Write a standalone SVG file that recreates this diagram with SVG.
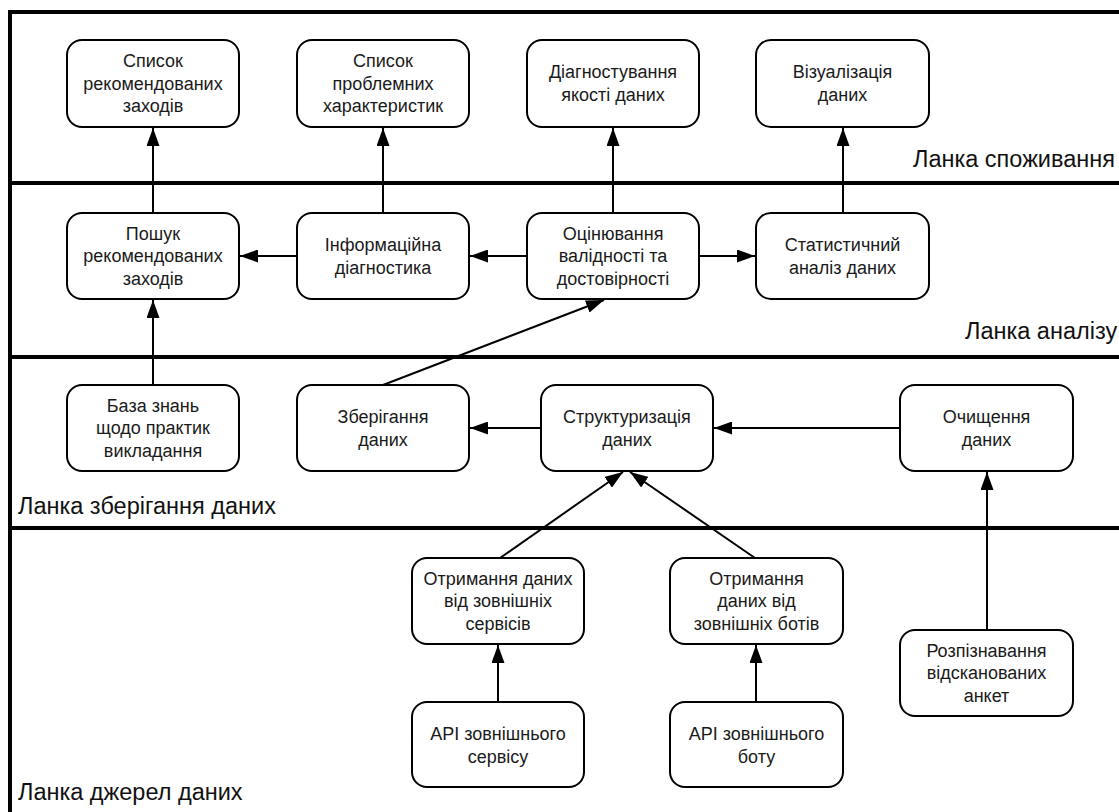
<svg xmlns="http://www.w3.org/2000/svg" width="1119" height="812" viewBox="0 0 1119 812">
<style>
.lane{fill:none;stroke:#000;stroke-width:4}
.box{fill:#fff;stroke:#000;stroke-width:2}
.t{font-family:"Liberation Sans",Arial,sans-serif;font-size:18px;fill:#1a1a1a;text-anchor:middle}
.lbl{font-family:"Liberation Sans",Arial,sans-serif;font-size:23.5px;fill:#111}
.c{fill:none;stroke:#000;stroke-width:2;marker-end:url(#ah)}
</style>
<defs>
<marker id="ah" markerUnits="userSpaceOnUse" markerWidth="18" markerHeight="13" refX="18" refY="6.5" orient="auto">
<path d="M0,0 L18,6.5 L0,13 z" fill="#000"/>
</marker>
</defs>
<rect width="1119" height="812" fill="#fff"/>
<g id="lanes">
<rect class="lane" x="10" y="12" width="1200" height="900"/>
<line class="lane" x1="10" y1="183" x2="1119" y2="183"/>
<line class="lane" x1="10" y1="357" x2="1119" y2="357"/>
<line class="lane" x1="10" y1="528" x2="1119" y2="528"/>
<text class="lbl" x="913" y="167">Ланка споживання</text>
<text class="lbl" x="965" y="339">Ланка аналізу</text>
<text class="lbl" x="18" y="514">Ланка зберігання даних</text>
<text class="lbl" x="18" y="800">Ланка джерел даних</text>
</g>
<g id="connectors">
<line class="c" x1="153" y1="213" x2="153" y2="128"/>
<line class="c" x1="383" y1="213" x2="383" y2="128"/>
<line class="c" x1="613" y1="213" x2="613" y2="128"/>
<line class="c" x1="843" y1="213" x2="843" y2="128"/>
<line class="c" x1="296" y1="256" x2="240" y2="256"/>
<line class="c" x1="527" y1="256" x2="470" y2="256"/>
<line class="c" x1="699" y1="256" x2="755" y2="256"/>
<line class="c" x1="153" y1="385" x2="153" y2="300"/>
<line class="c" x1="383" y1="385" x2="604" y2="300"/>
<line class="c" x1="541" y1="428" x2="470" y2="428"/>
<line class="c" x1="900" y1="428" x2="714" y2="428"/>
<line class="c" x1="500" y1="558" x2="623" y2="472"/>
<line class="c" x1="755" y1="558" x2="630" y2="472"/>
<line class="c" x1="987" y1="630" x2="987" y2="472"/>
<line class="c" x1="498" y1="702" x2="498" y2="645"/>
<line class="c" x1="756" y1="702" x2="756" y2="645"/>
</g>
<g id="n1"><rect class="box" x="67" y="40" width="172" height="87" rx="15"/><text class="t" x="153" y="67">Список</text><text class="t" x="153" y="90">рекомендованих</text><text class="t" x="153" y="112">заходів</text></g>
<g id="n2"><rect class="box" x="297" y="40" width="172" height="87" rx="15"/><text class="t" x="383" y="67">Список</text><text class="t" x="383" y="90">проблемних</text><text class="t" x="383" y="112">характеристик</text></g>
<g id="n3"><rect class="box" x="527" y="40" width="172" height="87" rx="15"/><text class="t" x="613" y="78">Діагностування</text><text class="t" x="613" y="101">якості даних</text></g>
<g id="n4"><rect class="box" x="756" y="40" width="173" height="87" rx="15"/><text class="t" x="842.5" y="78">Візуалізація</text><text class="t" x="842.5" y="101">даних</text></g>
<g id="n5"><rect class="box" x="67" y="213" width="172" height="86" rx="15"/><text class="t" x="153" y="240">Пошук</text><text class="t" x="153" y="262">рекомендованих</text><text class="t" x="153" y="285">заходів</text></g>
<g id="n6"><rect class="box" x="297" y="213" width="172" height="86" rx="15"/><text class="t" x="383" y="251">Інформаційна</text><text class="t" x="383" y="274">діагностика</text></g>
<g id="n7"><rect class="box" x="527" y="213" width="172" height="86" rx="15"/><text class="t" x="613" y="240">Оцінювання</text><text class="t" x="613" y="262">валідності та</text><text class="t" x="613" y="285">достовірності</text></g>
<g id="n8"><rect class="box" x="756" y="213" width="173" height="86" rx="15"/><text class="t" x="842.5" y="251">Статистичний</text><text class="t" x="842.5" y="274">аналіз даних</text></g>
<g id="n9"><rect class="box" x="67" y="385" width="172" height="86" rx="15"/><text class="t" x="153" y="412">База знань</text><text class="t" x="153" y="434">щодо практик</text><text class="t" x="153" y="457">викладання</text></g>
<g id="n10"><rect class="box" x="297" y="385" width="172" height="86" rx="15"/><text class="t" x="383" y="423">Зберігання</text><text class="t" x="383" y="446">даних</text></g>
<g id="n11"><rect class="box" x="541" y="385" width="172" height="86" rx="15"/><text class="t" x="627" y="423">Структуризація</text><text class="t" x="627" y="446">даних</text></g>
<g id="n12"><rect class="box" x="900" y="385" width="173" height="86" rx="15"/><text class="t" x="986.5" y="423">Очищення</text><text class="t" x="986.5" y="446">даних</text></g>
<g id="n13"><rect class="box" x="412" y="558" width="172" height="86" rx="15"/><text class="t" x="498" y="585">Отримання даних</text><text class="t" x="498" y="607">від зовнішніх</text><text class="t" x="498" y="630">сервісів</text></g>
<g id="n14"><rect class="box" x="670" y="558" width="173" height="86" rx="15"/><text class="t" x="756.5" y="585">Отримання</text><text class="t" x="756.5" y="607">даних від</text><text class="t" x="756.5" y="630">зовнішніх ботів</text></g>
<g id="n15"><rect class="box" x="900" y="630" width="173" height="86" rx="15"/><text class="t" x="986.5" y="657">Розпізнавання</text><text class="t" x="986.5" y="679">відсканованих</text><text class="t" x="986.5" y="702">анкет</text></g>
<g id="n16"><rect class="box" x="412" y="702" width="172" height="85" rx="15"/><text class="t" x="498" y="740">API зовнішнього</text><text class="t" x="498" y="763">сервісу</text></g>
<g id="n17"><rect class="box" x="670" y="702" width="173" height="85" rx="15"/><text class="t" x="756.5" y="740">API зовнішнього</text><text class="t" x="756.5" y="763">боту</text></g>
</svg>
